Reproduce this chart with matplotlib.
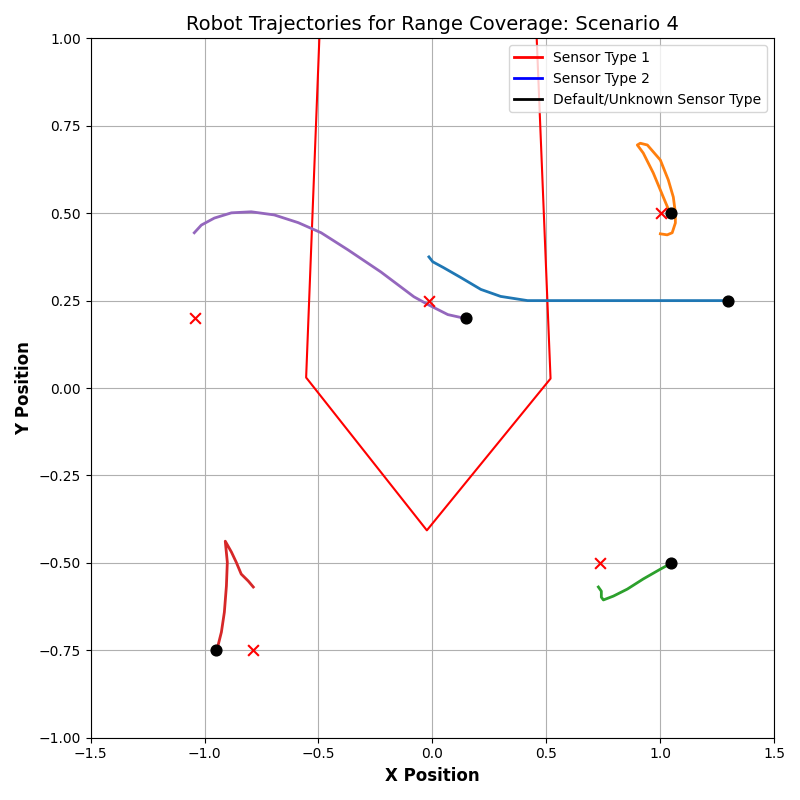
import matplotlib
matplotlib.use("Agg")
import matplotlib.pyplot as plt
from matplotlib.lines import Line2D

# robot trajectories (x, y)
traj_blue_x = [1.299, 0.418, 0.300, 0.213, 0.125, 0.050, 0.002, -0.015]
traj_blue_y = [0.25, 0.25, 0.262, 0.282, 0.316, 0.344, 0.361, 0.375]

traj_orange_x = [1.045, 1.014, 0.970, 0.926, 0.900, 0.913, 0.944, 1.001, 1.036, 1.058, 1.067, 1.067, 1.053, 1.031, 1.001]
traj_orange_y = [0.498, 0.546, 0.615, 0.672, 0.695, 0.700, 0.695, 0.652, 0.595, 0.546, 0.501, 0.472, 0.444, 0.438, 0.441]

traj_green_x = [1.049, 1.001, 0.926, 0.856, 0.795, 0.751, 0.742, 0.742, 0.729]
traj_green_y = [-0.501, -0.518, -0.546, -0.575, -0.595, -0.606, -0.598, -0.581, -0.569]

traj_red_x = [-0.948, -0.926, -0.913, -0.904, -0.900, -0.909, -0.882, -0.861, -0.839, -0.808, -0.786]
traj_red_y = [-0.755, -0.698, -0.641, -0.566, -0.498, -0.438, -0.469, -0.498, -0.532, -0.552, -0.569]

traj_purple_x = [0.151, 0.068, -0.020, -0.081, -0.226, -0.370, -0.488, -0.589, -0.694, -0.795, -0.882, -0.957, -1.014, -1.045]
traj_purple_y = [0.198, 0.210, 0.239, 0.261, 0.332, 0.395, 0.444, 0.473, 0.495, 0.504, 0.501, 0.486, 0.466, 0.444]

# start positions and targets
start_x = [1.3, 1.05, 1.05, -0.95, 0.15]
start_y = [0.25, 0.5, -0.5, -0.75, 0.2]
goal_x = [-0.015, 1.005, 0.734, -0.786, -1.04]
goal_y = [0.25, 0.5, -0.5, -0.75, 0.2]

# sensor range polygon
poly_x = [-0.466, -0.554, -0.024, 0.519, 0.427]
poly_y = [1.5, 0.030, -0.407, 0.027, 1.5]

fig, ax = plt.subplots(figsize=(8, 8), dpi=100)

ax.plot(poly_x + [poly_x[0]], poly_y + [poly_y[0]], color="red", lw=1.5)

trajs = [(traj_blue_x, traj_blue_y), (traj_orange_x, traj_orange_y),
         (traj_green_x, traj_green_y), (traj_red_x, traj_red_y),
         (traj_purple_x, traj_purple_y)]
for i, (tx, ty) in enumerate(trajs):
    ax.plot(tx, ty, color="C%d" % i, lw=2)

ax.scatter(start_x, start_y, color="black", s=60, zorder=5)
ax.scatter(goal_x, goal_y, color="red", marker="x", s=60, zorder=5)

handles = [Line2D([0], [0], color="red", lw=2),
           Line2D([0], [0], color="blue", lw=2),
           Line2D([0], [0], color="black", lw=2)]
ax.legend(handles, ["Sensor Type 1", "Sensor Type 2", "Default/Unknown Sensor Type"],
          loc="upper right")

ax.set_xlim(-1.5, 1.5)
ax.set_ylim(-1.0, 1.0)
ax.set_xticks([-1.5, -1.0, -0.5, 0.0, 0.5, 1.0, 1.5])
ax.set_yticks([-1.0, -0.75, -0.5, -0.25, 0.0, 0.25, 0.5, 0.75, 1.0])
ax.grid(True)
ax.set_title("Robot Trajectories for Range Coverage: Scenario 4", fontsize=14)
ax.set_xlabel("X Position", fontsize=12, fontweight="bold")
ax.set_ylabel("Y Position", fontsize=12, fontweight="bold")

plt.tight_layout()
plt.savefig("out.png")
